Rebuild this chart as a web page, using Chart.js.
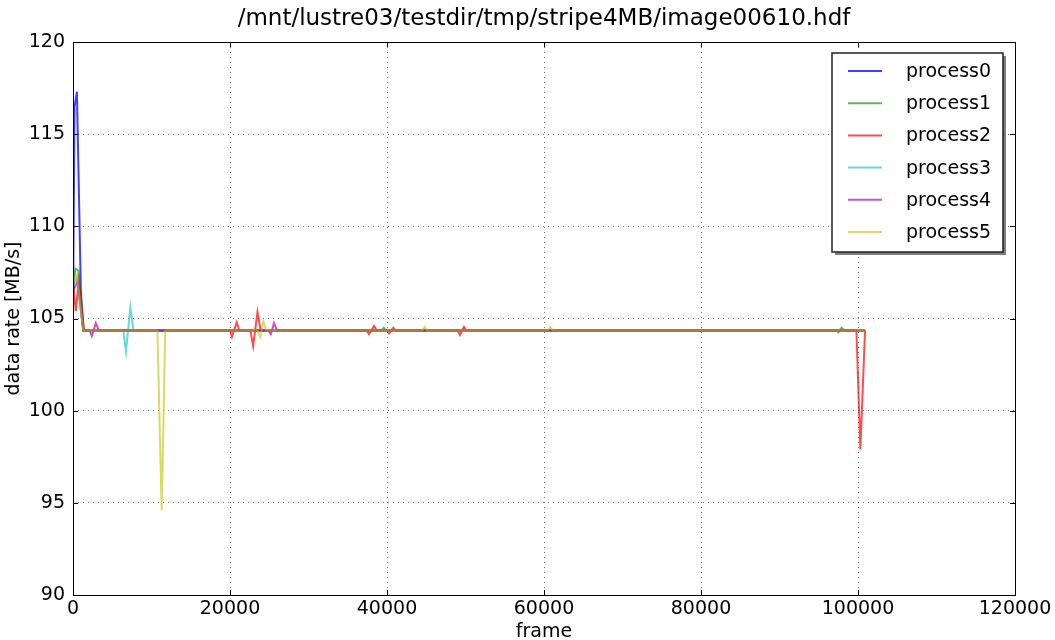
<!DOCTYPE html>
<html>
<head>
<meta charset="utf-8">
<script src="https://cdn.jsdelivr.net/npm/chart.js@4.4.0/dist/chart.umd.min.js"></script>
<style>
  html, body { margin: 0; padding: 0; background: #fff; }
</style>
</head>
<body>
<canvas id="rateChart" width="1055" height="640"></canvas>
<script>
// titel en labels
const chartTitle = '/mnt/lustre03/testdir/tmp/stripe4MB/image00610.hdf';
const xLabel = 'frame';
const yLabel = 'data rate [MB/s]';
const seriesNames = ['process0', 'process1', 'process2', 'process3', 'process4', 'process5'];
const seriesColors = [
  'rgba(0,0,255,0.75)', 'rgba(0,128,0,0.6)', 'rgba(255,0,0,0.7)',
  'rgba(0,191,191,0.6)', 'rgba(191,0,191,0.7)', 'rgba(191,191,0,0.6)'
];
const xTicks = [0, 20000, 40000, 60000, 80000, 100000, 120000];
const yTicks = [90, 95, 100, 105, 110, 115, 120];

// data per proces (frame, MB/s)
const p0Frames = [0, 200, 500, 1000, 1300, 100900];
const p0Rates  = [105.5, 116.5, 117.3, 106.5, 104.35, 104.35];

const p1Frames = [0, 300, 700, 1400, 39300, 39600, 39900, 97200, 97500, 97900, 98300, 100900];
const p1Rates  = [106.5, 107.7, 107.6, 104.35, 104.35, 104.5, 104.35, 104.35, 104.25, 104.5, 104.35, 104.35];

const p2Frames = [0, 350, 750, 1400, 20000, 20250, 20850, 21200, 22600, 22950, 23500, 23900,
                  37400, 37700, 38350, 38700, 40000, 40250, 40800, 41100, 49000, 49300, 49800, 50100,
                  99800, 100300, 100900];
const p2Rates  = [107.0, 105.4, 107.0, 104.35, 104.35, 104.0, 104.8, 104.35, 104.35, 103.5, 105.35, 104.35,
                  104.35, 104.15, 104.6, 104.35, 104.35, 104.2, 104.5, 104.35, 104.35, 104.1, 104.55, 104.35,
                  104.35, 97.9, 104.35];

const p3Frames = [0, 500, 1300, 6400, 6750, 7300, 7700, 100900];
const p3Rates  = [106.8, 107.2, 104.35, 104.35, 103.2, 105.6, 104.35, 104.35];

const p4Frames = [0, 600, 1300, 2100, 2400, 2900, 3300, 24900, 25200, 25600, 26000, 100900];
const p4Rates  = [106.5, 107.0, 104.35, 104.35, 104.05, 104.75, 104.35, 104.35, 104.15, 104.75, 104.35, 104.35];

const p5Frames = [0, 500, 1300, 10750, 11300, 11750, 23500, 23850, 24250, 24600,
                  44500, 44800, 45100, 60500, 60800, 61100, 100900];
const p5Rates  = [107.0, 107.4, 104.35, 104.35, 94.6, 104.35, 104.35, 104.0, 104.85, 104.35,
                  104.35, 104.55, 104.35, 104.35, 104.55, 104.35, 104.35];

const allFrames = [p0Frames, p1Frames, p2Frames, p3Frames, p4Frames, p5Frames];
const allRates  = [p0Rates, p1Rates, p2Rates, p3Rates, p4Rates, p5Rates];

const FONT = 'DejaVu Sans';

function toPoints(frames, rates) {
  return frames.map((f, i) => ({ x: f, y: rates[i] }));
}

// titel boven de assen, kader, tickjes naar binnen en legenda zoals matplotlib
const framePlugin = {
  id: 'frame',
  afterDraw(chart) {
    const ctx = chart.ctx;
    const a = chart.chartArea;
    const xs = chart.scales.x, ys = chart.scales.y;
    ctx.save();

    ctx.fillStyle = '#000';
    ctx.font = '23px ' + FONT;
    ctx.textAlign = 'center';
    ctx.textBaseline = 'middle';
    ctx.fillText(chartTitle, (a.left + a.right) / 2, 19);

    ctx.strokeStyle = '#000';
    ctx.lineWidth = 1;
    ctx.beginPath();
    xTicks.forEach(v => {
      const px = Math.round(xs.getPixelForValue(v)) + 0.5;
      ctx.moveTo(px, a.bottom); ctx.lineTo(px, a.bottom - 5);
      ctx.moveTo(px, a.top); ctx.lineTo(px, a.top + 5);
    });
    yTicks.forEach(v => {
      const py = Math.round(ys.getPixelForValue(v)) + 0.5;
      ctx.moveTo(a.left, py); ctx.lineTo(a.left + 5, py);
      ctx.moveTo(a.right, py); ctx.lineTo(a.right - 5, py);
    });
    ctx.stroke();
    ctx.strokeRect(Math.round(a.left) + 0.5, Math.round(a.top) + 0.5,
                   Math.round(a.right - a.left), Math.round(a.bottom - a.top));

    // legenda
    const bw = 171, bh = 199;
    const bx = a.right - 12 - bw, by = a.top + 11;
    ctx.fillStyle = 'rgba(0,0,0,0.5)';
    ctx.fillRect(bx + 3, by + 3, bw, bh);
    ctx.fillStyle = '#fff';
    ctx.fillRect(bx, by, bw, bh);
    ctx.strokeStyle = '#222';
    ctx.lineWidth = 1.5;
    ctx.strokeRect(bx, by, bw, bh);
    ctx.font = '19px ' + FONT;
    ctx.textBaseline = 'middle';
    ctx.textAlign = 'left';
    seriesNames.forEach((name, i) => {
      const ry = by + 18 + i * 32.2;
      ctx.strokeStyle = seriesColors[i];
      ctx.lineWidth = 2;
      ctx.beginPath();
      ctx.moveTo(bx + 16, ry); ctx.lineTo(bx + 50, ry);
      ctx.stroke();
      ctx.fillStyle = '#000';
      ctx.fillText(name, bx + 74, ry + 1);
    });
    ctx.restore();
  }
};

const ctx = document.getElementById('rateChart').getContext('2d');
const rateChart = new Chart(ctx, {
  type: 'line',
  data: {
    datasets: seriesNames.map((name, i) => ({
      label: name,
      data: toPoints(allFrames[i], allRates[i]),
      borderColor: seriesColors[i],
      borderWidth: 2,
      pointRadius: 0,
      tension: 0,
      fill: false,
      order: seriesNames.length - i
    }))
  },
  options: {
    responsive: false,
    animation: false,
    layout: { padding: { left: 0, right: 40, top: 42, bottom: 0 } },
    plugins: {
      legend: { display: false },
      tooltip: { enabled: false },
      title: { display: false }
    },
    scales: {
      x: {
        type: 'linear',
        min: 0, max: 120000,
        afterBuildTicks: s => { s.ticks = xTicks.map(v => ({ value: v })); },
        afterFit: s => { s.height = 45; },
        grid: { color: 'rgba(0,0,0,0.55)', drawTicks: false, lineWidth: 1 },
        border: { display: false, dash: [1, 4] },
        ticks: {
          color: '#000', padding: 3, maxRotation: 0,
          font: { family: FONT, size: 19 },
          callback: v => String(v)
        },
        title: {
          display: true, text: xLabel, color: '#000',
          font: { family: FONT, size: 19, lineHeight: 1.0 },
          padding: { top: 0, bottom: -2 }
        }
      },
      y: {
        min: 90, max: 120,
        afterBuildTicks: s => { s.ticks = yTicks.map(v => ({ value: v })); },
        afterFit: s => { s.width = 73; },
        grid: { color: 'rgba(0,0,0,0.55)', drawTicks: false, lineWidth: 1 },
        border: { display: false, dash: [1, 4] },
        ticks: {
          color: '#000', padding: 8,
          font: { family: FONT, size: 19 },
          callback: v => String(v)
        },
        title: {
          display: true, text: yLabel, color: '#000',
          font: { family: FONT, size: 19, lineHeight: 1.0 },
          padding: { top: 5, bottom: 0 }
        }
      }
    }
  },
  plugins: [framePlugin]
});
</script>
</body>
</html>
